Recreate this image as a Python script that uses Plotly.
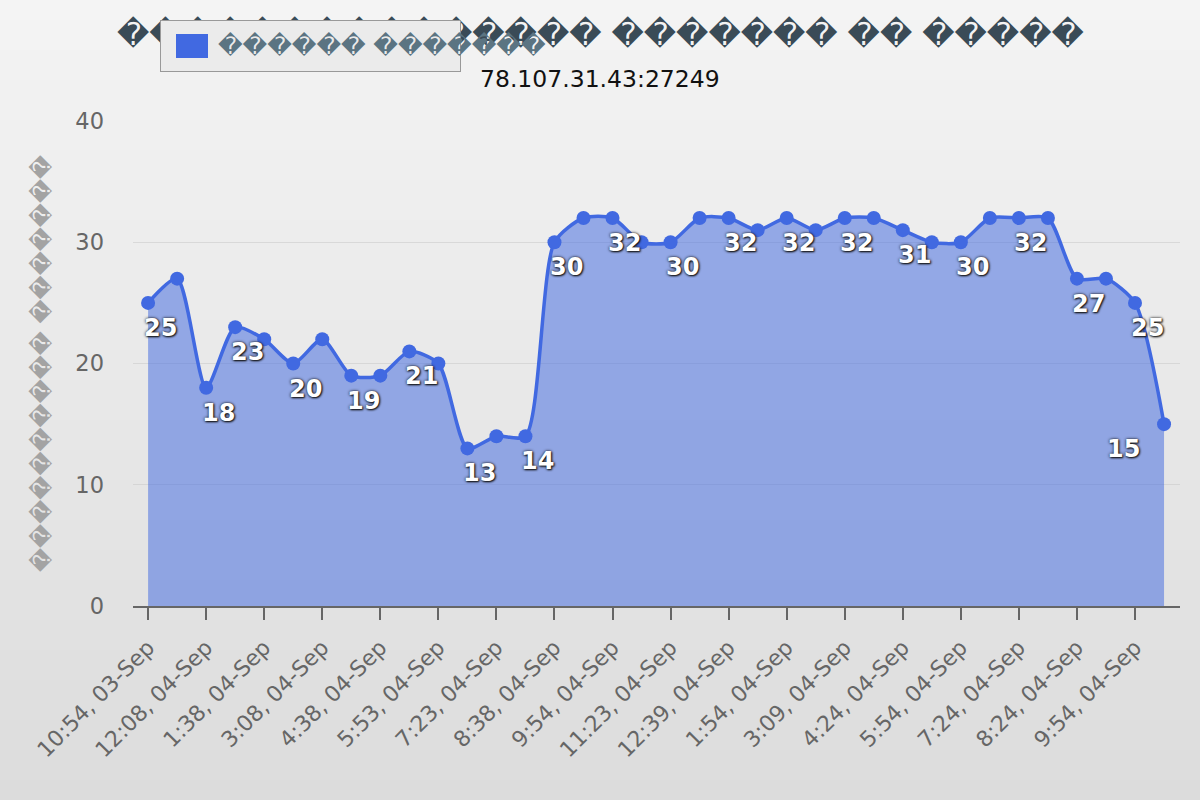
import plotly.graph_objects as go

# ---------------- data ----------------
values = [25, 27, 18, 23, 22, 20, 22, 19, 19, 21, 20, 13, 14, 14,
          30, 32, 32, 30, 30, 32, 32, 31, 32, 31, 32, 32, 31, 30, 30,
          32, 32, 32, 27, 27, 25, 15]
tick_labels = ["10:54, 03-Sep", "12:08, 04-Sep", "1:38, 04-Sep", "3:08, 04-Sep",
               "4:38, 04-Sep", "5:53, 04-Sep", "7:23, 04-Sep", "8:38, 04-Sep",
               "9:54, 04-Sep", "11:23, 04-Sep", "12:39, 04-Sep", "1:54, 04-Sep",
               "3:09, 04-Sep", "4:24, 04-Sep", "5:54, 04-Sep", "7:24, 04-Sep",
               "8:24, 04-Sep", "9:54, 04-Sep"]
labelled_points = [0, 2, 3, 5, 7, 9, 11, 13, 14, 16, 18, 20, 22, 24, 26, 28, 30, 32, 34, 35]
R = "\ufffd"
title_text = R * 15 + " " + R * 7 + " " + R * 2 + " " + R * 5
subtitle_text = "78.107.31.43:27249"
series_name = R * 6 + " " + R * 7
y_title = R * 10 + " " + R * 7

# ---------------- layout geometry ----------------
W, H = 1200, 800
PL, PR, PT, PB = 133, 1180, 121, 606

def fx(px):
    return (px - PL) / (PR - PL)

def fy(py):
    return (PB - py) / (PB - PT)

x = list(range(len(values)))
tickvals = x[::2][:len(tick_labels)]

fig = go.Figure()
fig.add_trace(go.Scatter(
    x=x, y=values, mode="lines+markers", name=series_name,
    line=dict(color="#4169e1", width=3.5, shape="spline", smoothing=0.7),
    marker=dict(color="#4169e1", size=14),
    fill="tozeroy", fillcolor="rgba(65,105,225,0.52)",
    showlegend=False, hoverinfo="x+y",
))

shapes = []
# vertical gradient background
n = 80
top, bot = (244, 244, 244), (220, 220, 220)
for i in range(n):
    t = (i + 0.5) / n
    c = tuple(round(top[k] + (bot[k] - top[k]) * t) for k in range(3))
    y0 = H * i / n
    y1 = H * (i + 1) / n + 1
    shapes.append(dict(type="rect", xref="paper", yref="paper", layer="below",
                       x0=fx(0), x1=fx(W), y0=fy(y1), y1=fy(y0),
                       fillcolor="rgb(%d,%d,%d)" % c, line=dict(width=0)))

annotations = []
# title
annotations.append(dict(text=title_text, xref="paper", yref="paper",
                        x=fx(600), y=fy(34), xanchor="center", yanchor="middle",
                        showarrow=False,
                        font=dict(family="DejaVu Sans", size=31.5, color="#3a4b57")))
# legend box
annotations.append(dict(text=" ", xref="paper", yref="paper",
                        x=fx(160), y=fy(20), xanchor="left", yanchor="top",
                        width=299, height=50, showarrow=False,
                        bgcolor="#ebebeb", bordercolor="#999999", borderwidth=1, borderpad=0))
annotations.append(dict(text=" ", xref="paper", yref="paper",
                        x=fx(176), y=fy(34), xanchor="left", yanchor="top",
                        width=32, height=24, showarrow=False,
                        bgcolor="#4169e1", borderwidth=0, borderpad=0))
annotations.append(dict(text=series_name, xref="paper", yref="paper",
                        x=fx(216), y=fy(46), xanchor="left", yanchor="middle",
                        showarrow=False,
                        font=dict(family="DejaVu Sans", size=24, color="#5b7482")))
# subtitle
annotations.append(dict(text=subtitle_text, xref="paper", yref="paper",
                        x=fx(600), y=fy(79), xanchor="center", yanchor="middle",
                        showarrow=False,
                        font=dict(family="DejaVu Sans", size=23.5, color="#111111")))
# y axis title
annotations.append(dict(text=y_title, xref="paper", yref="paper",
                        x=fx(42), y=fy(364), xanchor="center", yanchor="middle",
                        textangle=-90, showarrow=False,
                        font=dict(family="DejaVu Sans", size=23.5, color="#a3a3a3")))
# data labels
for i in labelled_points:
    xs = 12 if i < len(values) - 1 else -41
    annotations.append(dict(text=str(values[i]), x=x[i], y=values[i],
                            xref="x", yref="y", xshift=xs, yshift=-25,
                            xanchor="center", yanchor="middle", showarrow=False,
                            font=dict(family="DejaVu Sans", size=24, color="white",
                                      weight="bold",
                                      shadow="0px 0px 3px #111111, 1px 1px 2px #111111")))

fig.update_layout(
    width=W, height=H,
    margin=dict(l=PL, r=W - PR, t=PT, b=H - PB, pad=0),
    paper_bgcolor="#e8e8e8", plot_bgcolor="rgba(0,0,0,0)",
    font=dict(family="DejaVu Sans", color="#666666"),
    shapes=shapes, annotations=annotations,
    showlegend=False,
    xaxis=dict(range=[-0.52, len(values) - 1 + 0.55], tickmode="array",
               tickvals=tickvals, ticktext=tick_labels, tickangle=-45,
               tickfont=dict(size=22, color="#666666"),
               ticks="outside", ticklen=12, tickwidth=2, tickcolor="#666666",
               ticklabelstandoff=6,
               showline=True, linecolor="#666666", linewidth=2,
               showgrid=False, zeroline=False, fixedrange=True),
    yaxis=dict(range=[0, 40], tickvals=[0, 10, 20, 30, 40],
               tickfont=dict(size=22.5, color="#666666"),
               showgrid=True, gridcolor="rgba(200,200,200,0.55)", gridwidth=1,
               zeroline=False, showline=False, ticks="", ticklabelstandoff=28,
               fixedrange=True),
)

fig.write_html("out.html")
